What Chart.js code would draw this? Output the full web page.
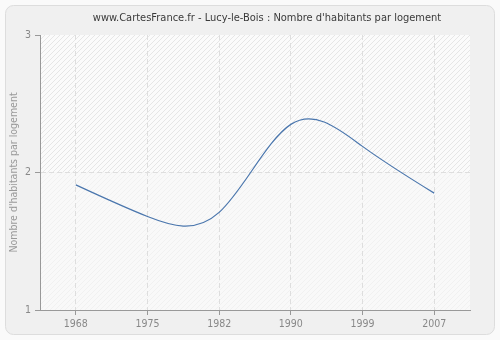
<!DOCTYPE html>
<html lang="fr">
<head>
  <meta charset="UTF-8">
  <title>Lucy-le-Bois</title>
  <script src="https://cdn.jsdelivr.net/npm/chart.js"></script>
  <style>
    html, body { margin: 0; padding: 0; background: #fafafa; }
    #wrap { width: 500px; height: 340px; }
  </style>
</head>
<body>
  <div id="wrap"><canvas id="viz" width="500" height="340"></canvas></div>
  <script>
    const years = ['1968', '1975', '1982', '1990', '1999', '2007']
    const habitantsParLogement = [1.91, 1.68, 1.71, 2.35, 2.19, 1.85]
    const yTicks = [1, 2, 3]
    const chartTitle = "www.CartesFrance.fr - Lucy-le-Bois : Nombre d'habitants par logement"
    const yTitle = "Nombre d'habitants par logement"

    const FONT = "'DejaVu Sans Condensed', 'DejaVu Sans', sans-serif"

    // diagonal hatch used behind the plot
    const makeHatch = (bg, line) => {
      const c = document.createElement('canvas')
      c.width = 5
      c.height = 5
      const g = c.getContext('2d')
      g.fillStyle = bg
      g.fillRect(0, 0, 5, 5)
      g.strokeStyle = line
      g.lineWidth = 1
      g.beginPath()
      g.moveTo(-1, 6)
      g.lineTo(6, -1)
      g.stroke()
      return g.createPattern(c, 'repeat')
    }

    const frame = {
      id: 'frame',
      beforeDraw(chart) {
        const { ctx, chartArea: a, scales } = chart
        ctx.save()
        ctx.fillStyle = '#fafafa'
        ctx.fillRect(0, 0, chart.width, chart.height)
        ctx.beginPath()
        ctx.roundRect(5.5, 5.5, chart.width - 11, chart.height - 11, 8)
        ctx.fillStyle = '#f0f0f0'
        ctx.fill()
        ctx.strokeStyle = '#dddddd'
        ctx.stroke()

        const mid = scales.y.getPixelForValue(2)
        ctx.fillStyle = makeHatch('#fbfbfb', '#e6e6e6')
        ctx.fillRect(a.left, a.top, a.right - a.left, mid - a.top)
        ctx.fillStyle = makeHatch('#f9f9f9', '#f1f1f1')
        ctx.fillRect(a.left, mid, a.right - a.left, a.bottom - mid)

        ctx.fillStyle = '#3a3a3a'
        ctx.font = '11px ' + FONT
        ctx.textAlign = 'center'
        ctx.textBaseline = 'middle'
        ctx.fillText(chartTitle, 267, 18)
        ctx.restore()
      }
    }

    // natural cubic spline through the points, written as bezier control points
    const naturalSpline = {
      id: 'naturalSpline',
      beforeDatasetsDraw(chart) {
        chart.data.datasets.forEach((ds, di) => {
          const meta = chart.getDatasetMeta(di)
          const pts = meta.data
          const n = pts.length
          if (n < 3) return
          const h = pts[1].x - pts[0].x
          // second derivatives, M[0] = M[n-1] = 0
          const M = new Array(n).fill(0)
          const c = new Array(n).fill(0)
          const d = new Array(n).fill(0)
          for (let i = 1; i < n - 1; i++) {
            const r = 6 * (pts[i + 1].y - 2 * pts[i].y + pts[i - 1].y) / (h * h)
            const m = 4 - (i > 1 ? c[i - 1] : 0)
            c[i] = 1 / m
            d[i] = (r - (i > 1 ? d[i - 1] : 0)) / m
          }
          for (let i = n - 2; i >= 1; i--) {
            M[i] = d[i] - c[i] * M[i + 1]
          }
          for (let i = 0; i < n - 1; i++) {
            const p = pts[i]
            const q = pts[i + 1]
            const s = (q.y - p.y) / h
            const d0 = s - h * (2 * M[i] + M[i + 1]) / 6
            const d1 = s + h * (M[i] + 2 * M[i + 1]) / 6
            p.cp2x = p.x + h / 3
            p.cp2y = p.y + d0 * h / 3
            q.cp1x = q.x - h / 3
            q.cp1y = q.y - d1 * h / 3
          }
          pts[0].cp1x = pts[0].x
          pts[0].cp1y = pts[0].y
          pts[n - 1].cp2x = pts[n - 1].x
          pts[n - 1].cp2y = pts[n - 1].y
          meta.dataset._pointsUpdated = true
        })
      }
    }

    new Chart(document.getElementById('viz'), {
      type: 'line',
      data: {
        labels: years,
        datasets: [{
          data: habitantsParLogement,
          borderColor: '#4a76ad',
          borderWidth: 1.2,
          pointRadius: 0,
          tension: 0.4,
          fill: false
        }]
      },
      options: {
        responsive: false,
        animation: false,
        events: [],
        layout: { padding: { left: 5, right: 30, top: 35, bottom: 0 } },
        plugins: {
          legend: { display: false },
          title: { display: false },
          tooltip: { enabled: false }
        },
        scales: {
          x: {
            offset: true,
            afterFit: (s) => { s.height = 30 },
            border: { display: true, color: '#999999', dash: [5, 3] },
            grid: {
              color: '#dedede',
              tickColor: '#999999',
              tickLength: 5,
              tickBorderDash: []
            },
            ticks: { color: '#888888', font: { family: FONT, size: 10.5 }, padding: 3, maxRotation: 0 }
          },
          y: {
            min: 1,
            max: 3,
            afterFit: (s) => { s.width = 35 },
            afterBuildTicks: (s) => { s.ticks = yTicks.map(v => ({ value: v })) },
            border: { display: true, color: '#999999', dash: [5, 3] },
            grid: {
              color: (c) => c.tick && c.tick.value === 2 ? '#dedede' : 'rgba(0,0,0,0)',
              tickColor: '#999999',
              tickLength: 5,
              tickBorderDash: []
            },
            ticks: { color: '#888888', font: { family: FONT, size: 10.5 }, padding: 4 },
            title: {
              display: true,
              text: yTitle,
              color: '#999999',
              font: { family: FONT, size: 10.5 },
              padding: { top: 3, bottom: 0 }
            }
          }
        }
      },
      plugins: [frame, naturalSpline]
    })
  </script>
</body>
</html>
